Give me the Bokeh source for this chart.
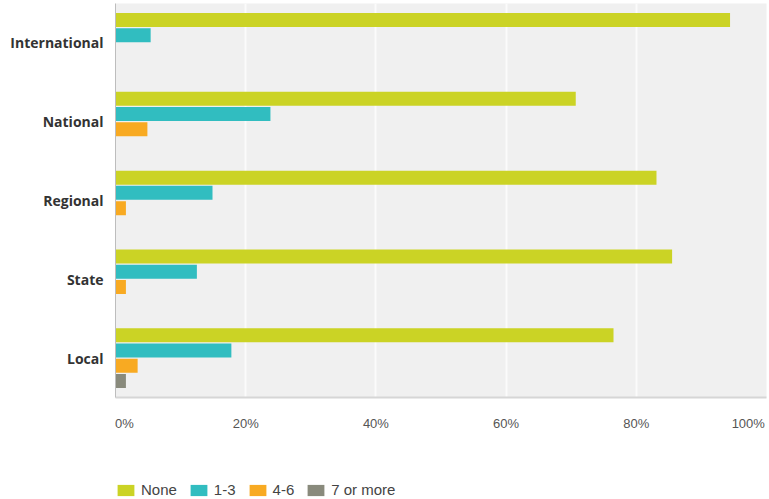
from bokeh.plotting import figure
from bokeh.layouts import column
from bokeh.models import (ColumnDataSource, FactorRange, Range1d, FixedTicker,
                          Legend, LegendItem)
from bokeh.transform import dodge
from bokeh.embed import file_html
from bokeh.resources import INLINE

# ---- data ----
categories = ["International", "National", "Regional", "State", "Local"]
series_names = ["None", "1-3", "4-6", "7 or more"]
none_vals = [94.4, 70.7, 83.1, 85.5, 76.5]
one_three_vals = [5.4, 23.8, 14.9, 12.5, 17.8]
four_six_vals = [0.0, 4.9, 1.6, 1.6, 3.4]
seven_plus_vals = [0.0, 0.0, 0.0, 0.0, 1.6]
tick_values = [0, 20, 40, 60, 80, 100]
tick_labels = ["0%", "20%", "40%", "60%", "80%", "100%"]
colors = ["#cbd325", "#31bdc0", "#f8aa22", "#898a7c"]

source = ColumnDataSource(dict(cat=categories, none=none_vals, one=one_three_vals,
                               four=four_six_vals, seven=seven_plus_vals))
cols = ["none", "one", "four", "seven"]

p = figure(width=768, height=440, output_backend="svg", toolbar_location=None,
           y_range=FactorRange(factors=list(reversed(categories)), range_padding=0),
           x_range=Range1d(0, 100),
           min_border_left=115, min_border_right=2, min_border_top=3,
           min_border_bottom=43)

p.background_fill_color = "#f0f0f0"
p.border_fill_color = "white"
p.outline_line_color = None

offsets = [0.29, 0.097, -0.097, -0.29]
for col, off, c in zip(cols, offsets, colors):
    p.hbar(y=dodge("cat", off, range=p.y_range), right=col, left=0,
           height=0.178, source=source, fill_color=c, line_color=None)

# axes
NB = "\u00a0"
p.xaxis.ticker = FixedTicker(ticks=tick_values)
overrides = {t: l for t, l in zip(tick_values, tick_labels)}
overrides[tick_values[0]] = NB * 5 + tick_labels[0]
overrides[tick_values[-1]] = tick_labels[-1] + NB
p.xaxis.major_label_overrides = overrides
p.xaxis.major_tick_line_color = None
p.xaxis.minor_tick_line_color = None
p.xaxis.axis_line_color = "#d6d6d6"
p.xaxis.axis_line_width = 2
p.xaxis.major_label_text_font = "Liberation Sans"
p.xaxis.major_label_text_font_size = "13px"
p.xaxis.major_label_text_color = "#555555"
p.xaxis.major_label_standoff = 12

p.yaxis.major_tick_line_color = None
p.yaxis.minor_tick_line_color = None
p.yaxis.axis_line_color = "#bdbdbd"
p.yaxis.axis_line_width = 1
p.yaxis.major_label_text_font = "Open Sans"
p.yaxis.major_label_text_font_style = "bold"
p.yaxis.major_label_text_font_size = "14px"
p.yaxis.major_label_text_color = "#333333"
p.yaxis.major_label_standoff = 6

p.xgrid.grid_line_color = "#fbfbfb"
p.xgrid.grid_line_width = 2
p.ygrid.grid_line_color = None

# ---- legend strip (same series with zero-height bars; only the legend shows) ----
lg = figure(width=768, height=58, output_backend="svg", toolbar_location=None,
            x_axis_location=None, y_axis_location=None,
            y_range=FactorRange(factors=categories), x_range=Range1d(0, 100),
            min_border_left=0, min_border_right=0, min_border_top=0,
            min_border_bottom=0)
lg.outline_line_color = None
lg.grid.grid_line_color = None
items = []
for name, col, c in zip(series_names, cols, colors):
    r = lg.hbar(y="cat", right=col, left=0, height=0, source=source,
                fill_color=c, line_color=None)
    items.append(LegendItem(label=name, renderers=[r]))

legend = Legend(items=items, orientation="horizontal", location=(0, 0))
legend.label_text_font = "Liberation Sans"
legend.label_text_font_size = "15px"
legend.label_text_color = "#444444"
legend.glyph_width = 21
legend.glyph_height = 14
legend.label_standoff = 5
legend.spacing = 11
legend.padding = 0
legend.margin = 0
legend.border_line_color = None
legend.background_fill_alpha = 0
lg.add_layout(legend)

layout = column(p, lg, spacing=0)
open("out.html", "w").write(file_html(layout, INLINE))
